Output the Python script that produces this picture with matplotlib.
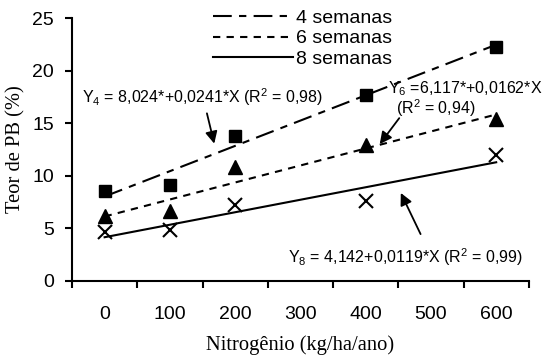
import numpy as np
import matplotlib
matplotlib.use("Agg")
import matplotlib.pyplot as plt
from matplotlib.ticker import FixedLocator, NullFormatter

# doses de nitrogênio (kg/ha/ano)
doses = [0, 100, 200, 400, 600]
# teor de PB observado (%)
pb_4sem = [8.5, 9.1, 13.8, 17.7, 22.3]
pb_6sem = [6.2, 6.6, 10.8, 12.9, 15.4]
pb_8sem = [4.6, 4.8, 7.2, 7.6, 12.0]
# coeficientes das equações (intercepto, inclinação)
coef_4 = (8.024, 0.0241)
coef_6 = (6.117, 0.0162)
coef_8 = (4.142, 0.0119)
legendas = ["4 semanas", "6 semanas", "8 semanas"]

plt.rcParams['font.family'] = ['Liberation Sans', 'DejaVu Sans']
plt.rcParams['mathtext.fontset'] = 'custom'
plt.rcParams['mathtext.rm'] = 'Liberation Sans'
plt.rcParams['mathtext.it'] = 'Liberation Sans'

fig = plt.figure(figsize=(5.52, 3.55), dpi=100)
ax = fig.add_axes([0.1304, 0.2093, 0.8276, 0.7392])

xr = np.array([0, 600])
l4, = ax.plot(xr, coef_4[0] + coef_4[1] * xr, color='black', lw=1.5,
              linestyle=(0, (9, 3.5, 3.5, 3.5)))
l6, = ax.plot(xr, coef_6[0] + coef_6[1] * xr, color='black', lw=1.5,
              linestyle=(0, (3.5, 3)))
l8, = ax.plot(xr, coef_8[0] + coef_8[1] * xr, color='black', lw=1.5)

ax.plot(doses, pb_4sem, 's', color='black', ms=8, ls='none')
ax.plot(doses, pb_6sem, '^', color='black', ms=10, ls='none')
ax.plot(doses, pb_8sem, 'x', color='black', ms=10, mew=1.5, ls='none')

ax.set_xlim(-50, 650)
ax.set_ylim(0, 25)
ax.spines['top'].set_visible(False)
ax.spines['right'].set_visible(False)
ax.spines['left'].set_linewidth(1.5)
ax.spines['bottom'].set_linewidth(1.5)

# marcas entre categorias, rótulos no centro
ax.xaxis.set_major_locator(FixedLocator(np.arange(-50, 651, 100)))
ax.xaxis.set_major_formatter(NullFormatter())
ax.xaxis.set_minor_locator(FixedLocator([0, 100, 200, 300, 400, 500, 600]))
ax.xaxis.set_minor_formatter(matplotlib.ticker.FormatStrFormatter('%d'))
ax.tick_params(axis='x', which='major', length=5, width=1.5, direction='out')
ax.tick_params(axis='x', which='minor', length=0, pad=18, labelsize=14)
ax.set_yticks([0, 5, 10, 15, 20, 25])
ax.tick_params(axis='y', length=5, width=1.5, direction='out', pad=8, labelsize=14)

ax.set_xlabel("Nitrogênio (kg/ha/ano)", family='Liberation Serif', fontsize=14.8, labelpad=9)
ax.set_ylabel("Teor de PB (%)", family='Liberation Serif', fontsize=14.8, labelpad=5)

ax.legend([l4, l6, l8], legendas, loc='upper left', bbox_to_anchor=(0.287, 1.07),
          frameon=False, fontsize=14, handlelength=4.1, handletextpad=0.2,
          labelspacing=0.13, borderpad=0)

seta = dict(arrowstyle='-|>', color='black', lw=1.3, mutation_scale=18)
ax.annotate("Y$_4$ = 8,024*+0,0241*X (R$^2$ = 0,98)", xy=(169, 12.8), xytext=(-34, 17.5),
            fontsize=11.5, va='center', ha='left', arrowprops=seta)
ax.annotate("", xy=(419, 12.8), xytext=(454, 15.7), arrowprops=seta)
ax.text(434, 18.3, "Y$_6$ =6,117*+0,0162*X", fontsize=11.5, va='center', ha='left')
ax.text(446, 16.4, "(R$^2$ = 0,94)", fontsize=11.5, va='center', ha='left')
ax.annotate("", xy=(452, 8.6), xytext=(486, 4.2), arrowprops=seta)
ax.text(281, 2.2, "Y$_8$ = 4,142+0,0119*X (R$^2$ = 0,99)", fontsize=11.5, va='center', ha='left')

fig.savefig("out.png", dpi=100)
